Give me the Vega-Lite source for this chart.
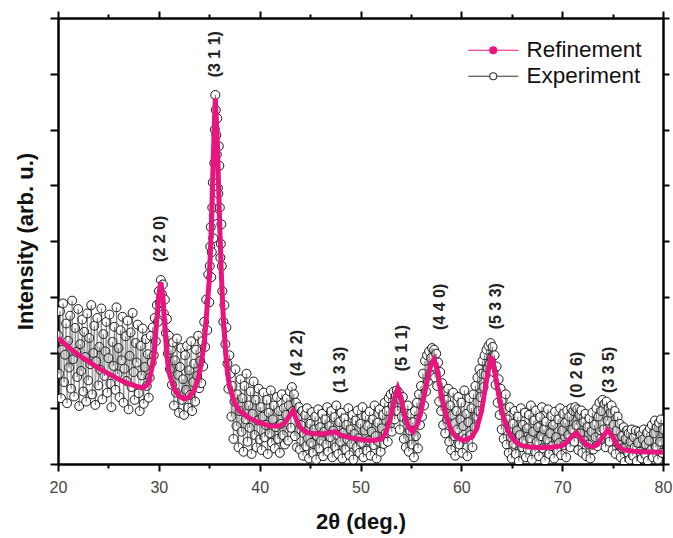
{
  "$schema": "https://vega.github.io/schema/vega-lite/v6.json",
  "width": 605,
  "height": 446,
  "autosize": {"type": "none"},
  "padding": {"left": 58, "top": 18, "right": 10, "bottom": 74},
  "background": "white",
  "config": {
    "font": "Liberation Sans",
    "view": {"stroke": null},
    "axis": {"grid": false, "domainColor": "black", "tickColor": "black", "domainWidth": 2.5, "tickWidth": 2}
  },
  "datasets": {
    "ref": [
      {"t":20.0,"r":2.26},{"t":21,"r":2.10},{"t":22,"r":1.96},{"t":23,"r":1.84},{"t":24,"r":1.72},{"t":25,"r":1.62},{"t":26,"r":1.52},{"t":27,"r":1.44},{"t":28,"r":1.38},{"t":28.5,"r":1.37},{"t":29.0,"r":1.45},{"t":29.5,"r":1.90},{"t":29.8,"r":2.60},{"t":30.0,"r":3.05},{"t":30.2,"r":3.26},{"t":30.4,"r":3.00},{"t":30.6,"r":2.45},{"t":30.8,"r":1.95},{"t":31.0,"r":1.65},{"t":31.5,"r":1.35},{"t":32.0,"r":1.22},{"t":32.5,"r":1.17},{"t":32.8,"r":1.18},{"t":33.0,"r":1.20},{"t":33.5,"r":1.32},{"t":34.0,"r":1.60},{"t":34.5,"r":2.15},{"t":35.0,"r":3.30},{"t":35.2,"r":4.20},{"t":35.4,"r":5.50},{"t":35.6,"r":6.56},{"t":35.8,"r":5.80},{"t":36.0,"r":4.50},{"t":36.2,"r":3.40},{"t":36.4,"r":2.60},{"t":36.6,"r":2.05},{"t":36.8,"r":1.65},{"t":37.0,"r":1.40},{"t":37.5,"r":1.10},{"t":38,"r":0.95},{"t":39,"r":0.82},{"t":40,"r":0.74},{"t":41,"r":0.68},{"t":42,"r":0.68},{"t":42.5,"r":0.74},{"t":43.0,"r":0.88},{"t":43.3,"r":0.95},{"t":43.6,"r":0.82},{"t":44.0,"r":0.66},{"t":44.5,"r":0.58},{"t":45,"r":0.55},{"t":46,"r":0.54},{"t":47,"r":0.56},{"t":47.5,"r":0.58},{"t":48,"r":0.52},{"t":49,"r":0.47},{"t":50,"r":0.44},{"t":51,"r":0.42},{"t":52,"r":0.44},{"t":52.5,"r":0.55},{"t":53.0,"r":0.85},{"t":53.4,"r":1.20},{"t":53.7,"r":1.36},{"t":54.0,"r":1.20},{"t":54.4,"r":0.85},{"t":54.8,"r":0.65},{"t":55.2,"r":0.58},{"t":55.6,"r":0.70},{"t":56.0,"r":0.95},{"t":56.5,"r":1.40},{"t":57.0,"r":1.80},{"t":57.3,"r":1.88},{"t":57.6,"r":1.70},{"t":58.0,"r":1.25},{"t":58.5,"r":0.85},{"t":59.0,"r":0.60},{"t":59.5,"r":0.48},{"t":60.2,"r":0.42},{"t":61.0,"r":0.48},{"t":61.5,"r":0.62},{"t":62.0,"r":0.95},{"t":62.5,"r":1.50},{"t":62.9,"r":1.90},{"t":63.1,"r":1.88},{"t":63.5,"r":1.45},{"t":64.0,"r":0.95},{"t":64.5,"r":0.65},{"t":65.0,"r":0.48},{"t":65.5,"r":0.38},{"t":66,"r":0.33},{"t":67,"r":0.30},{"t":68,"r":0.29},{"t":69,"r":0.30},{"t":70,"r":0.33},{"t":70.5,"r":0.40},{"t":71.0,"r":0.50},{"t":71.4,"r":0.56},{"t":71.8,"r":0.48},{"t":72.3,"r":0.36},{"t":73.0,"r":0.30},{"t":73.5,"r":0.35},{"t":74.0,"r":0.48},{"t":74.5,"r":0.61},{"t":74.9,"r":0.52},{"t":75.5,"r":0.33},{"t":76,"r":0.26},{"t":77,"r":0.23},{"t":78,"r":0.22},{"t":80,"r":0.21}
    ],
    "lab": [
      {"t":30.1,"y":4.04,"label":"(2 2 0)"},
      {"t":35.6,"y":7.35,"label":"(3 1 1)"},
      {"t":43.7,"y":1.99,"label":"(4 2 2)"},
      {"t":48.0,"y":1.69,"label":"(1 3 3)"},
      {"t":54.1,"y":2.08,"label":"(5 1 1)"},
      {"t":57.9,"y":2.82,"label":"(4 4 0)"},
      {"t":63.4,"y":2.83,"label":"(5 3 3)"},
      {"t":71.5,"y":1.60,"label":"(0 2 6)"},
      {"t":74.6,"y":1.69,"label":"(3 3 5)"}
    ],
    "exp": [
      {"t":20.0,"e":2.31},{"t":20.1,"e":1.62},{"t":20.2,"e":2.74},{"t":20.3,"e":1.18},{"t":20.4,"e":2.05},{"t":20.5,"e":2.88},{"t":20.6,"e":1.47},{"t":20.7,"e":1.96},{"t":20.8,"e":2.52},{"t":20.9,"e":1.09},
      {"t":21.0,"e":2.21},{"t":21.1,"e":1.73},{"t":21.2,"e":2.66},{"t":21.3,"e":1.35},{"t":21.4,"e":2.93},{"t":21.5,"e":1.88},{"t":21.6,"e":1.21},{"t":21.7,"e":2.44},{"t":21.8,"e":2.01},{"t":21.9,"e":1.56},
      {"t":22.0,"e":2.78},{"t":22.1,"e":1.04},{"t":22.2,"e":2.15},{"t":22.3,"e":1.67},{"t":22.4,"e":2.59},{"t":22.5,"e":1.30},{"t":22.6,"e":2.37},{"t":22.7,"e":1.92},{"t":22.8,"e":1.12},{"t":22.9,"e":2.70},
      {"t":23.0,"e":1.50},{"t":23.1,"e":2.26},{"t":23.2,"e":1.79},{"t":23.3,"e":2.85},{"t":23.4,"e":1.25},{"t":23.5,"e":1.99},{"t":23.6,"e":2.48},{"t":23.7,"e":1.06},{"t":23.8,"e":1.84},{"t":23.9,"e":2.62},
      {"t":24.0,"e":1.41},{"t":24.1,"e":2.10},{"t":24.2,"e":1.69},{"t":24.3,"e":2.79},{"t":24.4,"e":1.16},{"t":24.5,"e":2.33},{"t":24.6,"e":1.58},{"t":24.7,"e":2.02},{"t":24.8,"e":2.55},{"t":24.9,"e":1.28},
      {"t":25.0,"e":1.90},{"t":25.1,"e":2.68},{"t":25.2,"e":1.44},{"t":25.3,"e":1.02},{"t":25.4,"e":2.19},{"t":25.5,"e":1.76},{"t":25.6,"e":2.46},{"t":25.7,"e":1.33},{"t":25.8,"e":2.81},{"t":25.9,"e":1.61},
      {"t":26.0,"e":2.08},{"t":26.1,"e":1.20},{"t":26.2,"e":2.40},{"t":26.3,"e":1.86},{"t":26.4,"e":2.64},{"t":26.5,"e":1.10},{"t":26.6,"e":1.71},{"t":26.7,"e":2.29},{"t":26.8,"e":1.49},{"t":26.9,"e":2.57},
      {"t":27.0,"e":0.98},{"t":27.1,"e":1.94},{"t":27.2,"e":2.36},{"t":27.3,"e":1.38},{"t":27.4,"e":2.71},{"t":27.5,"e":1.65},{"t":27.6,"e":1.15},{"t":27.7,"e":2.17},{"t":27.8,"e":1.82},{"t":27.9,"e":2.50},
      {"t":28.0,"e":1.27},{"t":28.1,"e":0.95},{"t":28.2,"e":2.12},{"t":28.3,"e":1.59},{"t":28.4,"e":2.43},{"t":28.5,"e":1.08},{"t":28.6,"e":1.74},{"t":28.7,"e":2.24},{"t":28.8,"e":1.40},{"t":28.9,"e":1.97},
      {"t":29.0,"e":1.19},{"t":29.1,"e":1.55},{"t":29.2,"e":2.30},{"t":29.3,"e":1.82},{"t":29.4,"e":2.45},{"t":29.5,"e":1.95},{"t":29.6,"e":2.62},{"t":29.7,"e":2.20},{"t":29.8,"e":2.85},{"t":29.9,"e":2.55},
      {"t":30.0,"e":3.10},{"t":30.1,"e":2.90},{"t":30.2,"e":3.30},{"t":30.3,"e":3.05},{"t":30.4,"e":3.22},{"t":30.5,"e":2.70},{"t":30.6,"e":2.95},{"t":30.7,"e":2.35},{"t":30.8,"e":2.60},{"t":30.9,"e":1.98},
      {"t":31.0,"e":2.30},{"t":31.1,"e":1.70},{"t":31.2,"e":2.05},{"t":31.3,"e":1.42},{"t":31.4,"e":2.18},{"t":31.5,"e":1.05},{"t":31.6,"e":1.86},{"t":31.7,"e":1.28},{"t":31.8,"e":2.25},{"t":31.9,"e":1.60},
      {"t":32.0,"e":0.92},{"t":32.1,"e":1.74},{"t":32.2,"e":2.08},{"t":32.3,"e":1.15},{"t":32.4,"e":1.52},{"t":32.5,"e":0.88},{"t":32.6,"e":1.95},{"t":32.7,"e":1.33},{"t":32.8,"e":2.12},{"t":32.9,"e":1.01},
      {"t":33.0,"e":1.68},{"t":33.1,"e":1.24},{"t":33.2,"e":2.20},{"t":33.3,"e":0.95},{"t":33.4,"e":1.47},{"t":33.5,"e":1.80},{"t":33.6,"e":1.12},{"t":33.7,"e":2.05},{"t":33.8,"e":1.58},{"t":33.9,"e":2.30},
      {"t":34.0,"e":1.36},{"t":34.1,"e":1.85},{"t":34.2,"e":1.45},{"t":34.3,"e":2.20},{"t":34.4,"e":1.75},{"t":34.5,"e":2.55},{"t":34.6,"e":2.10},{"t":34.7,"e":2.95},{"t":34.8,"e":2.40},{"t":34.9,"e":3.40},
      {"t":35.0,"e":2.90},{"t":35.05,"e":3.55},{"t":35.1,"e":3.90},{"t":35.15,"e":4.25},{"t":35.2,"e":3.35},{"t":35.25,"e":3.80},{"t":35.3,"e":4.60},{"t":35.35,"e":5.05},{"t":35.4,"e":4.05},{"t":35.45,"e":4.45},
      {"t":35.5,"e":5.40},{"t":35.55,"e":6.00},{"t":35.6,"e":6.62},{"t":35.65,"e":6.35},{"t":35.7,"e":5.90},{"t":35.75,"e":5.55},{"t":35.8,"e":6.20},{"t":35.85,"e":4.95},{"t":35.9,"e":4.85},{"t":35.95,"e":5.70},
      {"t":36.0,"e":5.35},{"t":36.05,"e":4.60},{"t":36.1,"e":3.70},{"t":36.15,"e":3.95},{"t":36.2,"e":4.30},{"t":36.25,"e":3.55},{"t":36.3,"e":3.10},{"t":36.4,"e":2.55},{"t":36.5,"e":2.85},{"t":36.6,"e":2.15},
      {"t":36.7,"e":2.45},{"t":36.8,"e":1.80},{"t":36.9,"e":1.35},{"t":37.0,"e":1.95},{"t":37.1,"e":1.62},{"t":37.2,"e":0.85},{"t":37.3,"e":1.40},{"t":37.4,"e":0.45},{"t":37.5,"e":1.12},{"t":37.6,"e":1.70},
      {"t":37.7,"e":0.68},{"t":37.8,"e":1.25},{"t":37.9,"e":0.30},{"t":38.0,"e":0.95},{"t":38.1,"e":1.52},{"t":38.2,"e":0.58},{"t":38.3,"e":1.18},{"t":38.4,"e":0.22},{"t":38.5,"e":1.40},{"t":38.6,"e":0.80},
      {"t":38.7,"e":1.62},{"t":38.8,"e":0.40},{"t":38.9,"e":1.05},{"t":39.0,"e":0.65},{"t":39.1,"e":1.30},{"t":39.2,"e":0.18},{"t":39.3,"e":0.90},{"t":39.4,"e":1.48},{"t":39.5,"e":0.52},{"t":39.6,"e":1.15},
      {"t":39.7,"e":0.30},{"t":39.8,"e":0.78},{"t":39.9,"e":1.35},{"t":40.0,"e":0.44},{"t":40.1,"e":1.02},{"t":40.2,"e":0.25},{"t":40.3,"e":0.85},{"t":40.4,"e":1.28},{"t":40.5,"e":0.48},{"t":40.6,"e":0.70},
      {"t":40.7,"e":1.15},{"t":40.8,"e":0.18},{"t":40.9,"e":0.92},{"t":41.0,"e":0.55},{"t":41.1,"e":1.32},{"t":41.2,"e":0.38},{"t":41.3,"e":0.80},{"t":41.4,"e":1.05},{"t":41.5,"e":0.28},{"t":41.6,"e":0.66},
      {"t":41.7,"e":1.20},{"t":41.8,"e":0.45},{"t":41.9,"e":0.95},{"t":42.0,"e":0.20},{"t":42.1,"e":0.72},{"t":42.2,"e":1.25},{"t":42.3,"e":0.52},{"t":42.4,"e":1.00},{"t":42.5,"e":0.35},{"t":42.6,"e":0.88},
      {"t":42.7,"e":1.18},{"t":42.8,"e":0.42},{"t":42.9,"e":1.05},{"t":43.0,"e":1.30},{"t":43.1,"e":0.65},{"t":43.2,"e":1.38},{"t":43.3,"e":0.95},{"t":43.4,"e":1.25},{"t":43.5,"e":0.50},{"t":43.6,"e":1.10},
      {"t":43.7,"e":0.30},{"t":43.8,"e":0.85},{"t":43.9,"e":1.02},{"t":44.0,"e":0.26},{"t":44.1,"e":0.70},{"t":44.2,"e":0.95},{"t":44.3,"e":0.15},{"t":44.4,"e":0.55},{"t":44.5,"e":0.88},{"t":44.6,"e":0.32},
      {"t":44.7,"e":1.00},{"t":44.8,"e":0.46},{"t":44.9,"e":0.10},{"t":45.0,"e":0.72},{"t":45.1,"e":0.38},{"t":45.2,"e":0.93},{"t":45.3,"e":0.20},{"t":45.4,"e":0.62},{"t":45.5,"e":0.85},{"t":45.6,"e":0.08},
      {"t":45.7,"e":0.50},{"t":45.8,"e":0.98},{"t":45.9,"e":0.28},{"t":46.0,"e":0.66},{"t":46.1,"e":0.42},{"t":46.2,"e":0.90},{"t":46.3,"e":0.14},{"t":46.4,"e":0.58},{"t":46.5,"e":0.80},{"t":46.6,"e":0.35},
      {"t":46.7,"e":1.02},{"t":46.8,"e":0.22},{"t":46.9,"e":0.68},{"t":47.0,"e":0.48},{"t":47.1,"e":0.95},{"t":47.2,"e":0.12},{"t":47.3,"e":0.60},{"t":47.4,"e":0.84},{"t":47.5,"e":0.30},{"t":47.6,"e":1.05},
      {"t":47.7,"e":0.52},{"t":47.8,"e":0.18},{"t":47.9,"e":0.75},{"t":48.0,"e":0.40},{"t":48.1,"e":0.92},{"t":48.2,"e":0.10},{"t":48.3,"e":0.56},{"t":48.4,"e":0.82},{"t":48.5,"e":0.26},{"t":48.6,"e":0.70},
      {"t":48.7,"e":0.44},{"t":48.8,"e":1.00},{"t":48.9,"e":0.16},{"t":49.0,"e":0.62},{"t":49.1,"e":0.36},{"t":49.2,"e":0.88},{"t":49.3,"e":0.08},{"t":49.4,"e":0.54},{"t":49.5,"e":0.78},{"t":49.6,"e":0.30},
      {"t":49.7,"e":0.96},{"t":49.8,"e":0.46},{"t":49.9,"e":0.20},{"t":50.0,"e":0.72},{"t":50.1,"e":0.38},{"t":50.2,"e":1.02},{"t":50.3,"e":0.12},{"t":50.4,"e":0.60},{"t":50.5,"e":0.86},{"t":50.6,"e":0.24},
      {"t":50.7,"e":0.68},{"t":50.8,"e":0.42},{"t":50.9,"e":0.94},{"t":51.0,"e":0.15},{"t":51.1,"e":0.58},{"t":51.2,"e":0.80},{"t":51.3,"e":0.34},{"t":51.4,"e":1.05},{"t":51.5,"e":0.50},{"t":51.6,"e":0.10},
      {"t":51.7,"e":0.74},{"t":51.8,"e":0.40},{"t":51.9,"e":0.98},{"t":52.0,"e":0.22},{"t":52.1,"e":0.64},{"t":52.2,"e":0.88},{"t":52.3,"e":0.36},{"t":52.4,"e":1.10},{"t":52.5,"e":0.55},{"t":52.6,"e":0.95},
      {"t":52.7,"e":0.40},{"t":52.8,"e":1.18},{"t":52.9,"e":0.70},{"t":53.0,"e":1.25},{"t":53.1,"e":0.58},{"t":53.2,"e":1.05},{"t":53.3,"e":1.30},{"t":53.4,"e":0.80},{"t":53.5,"e":1.22},{"t":53.6,"e":1.32},
      {"t":53.7,"e":0.95},{"t":53.8,"e":1.28},{"t":53.9,"e":0.62},{"t":54.0,"e":1.15},{"t":54.1,"e":0.85},{"t":54.2,"e":1.20},{"t":54.3,"e":0.45},{"t":54.4,"e":0.98},{"t":54.5,"e":0.30},{"t":54.6,"e":0.78},
      {"t":54.7,"e":1.05},{"t":54.8,"e":0.22},{"t":54.9,"e":0.60},{"t":55.0,"e":0.90},{"t":55.1,"e":0.35},{"t":55.2,"e":0.75},{"t":55.3,"e":0.12},{"t":55.4,"e":0.95},{"t":55.5,"e":0.50},{"t":55.6,"e":1.10},
      {"t":55.7,"e":0.28},{"t":55.8,"e":1.25},{"t":55.9,"e":0.70},{"t":56.0,"e":1.40},{"t":56.1,"e":0.85},{"t":56.2,"e":1.62},{"t":56.3,"e":1.05},{"t":56.4,"e":1.85},{"t":56.5,"e":1.30},{"t":56.6,"e":1.95},
      {"t":56.7,"e":1.48},{"t":56.8,"e":2.02},{"t":56.9,"e":1.60},{"t":57.0,"e":1.90},{"t":57.1,"e":2.08},{"t":57.2,"e":1.75},{"t":57.3,"e":2.05},{"t":57.4,"e":1.55},{"t":57.5,"e":1.98},{"t":57.6,"e":1.40},
      {"t":57.7,"e":1.82},{"t":57.8,"e":1.12},{"t":57.9,"e":1.65},{"t":58.0,"e":0.95},{"t":58.1,"e":1.45},{"t":58.2,"e":0.70},{"t":58.3,"e":1.30},{"t":58.4,"e":0.55},{"t":58.5,"e":1.15},{"t":58.6,"e":0.80},
      {"t":58.7,"e":1.35},{"t":58.8,"e":0.40},{"t":58.9,"e":1.05},{"t":59.0,"e":0.25},{"t":59.1,"e":0.88},{"t":59.2,"e":1.28},{"t":59.3,"e":0.50},{"t":59.4,"e":0.15},{"t":59.5,"e":0.95},{"t":59.6,"e":0.62},
      {"t":59.7,"e":1.20},{"t":59.8,"e":0.35},{"t":59.9,"e":0.80},{"t":60.0,"e":1.10},{"t":60.1,"e":0.20},{"t":60.2,"e":0.68},{"t":60.3,"e":1.32},{"t":60.4,"e":0.45},{"t":60.5,"e":0.90},{"t":60.6,"e":0.14},
      {"t":60.7,"e":0.75},{"t":60.8,"e":1.18},{"t":60.9,"e":0.52},{"t":61.0,"e":1.00},{"t":61.1,"e":0.30},{"t":61.2,"e":1.25},{"t":61.3,"e":0.66},{"t":61.4,"e":1.40},{"t":61.5,"e":0.85},{"t":61.6,"e":1.55},
      {"t":61.7,"e":0.95},{"t":61.8,"e":1.70},{"t":61.9,"e":1.20},{"t":62.0,"e":1.62},{"t":62.1,"e":1.85},{"t":62.2,"e":1.38},{"t":62.3,"e":1.95},{"t":62.4,"e":1.60},{"t":62.5,"e":2.05},{"t":62.6,"e":1.72},
      {"t":62.7,"e":2.12},{"t":62.8,"e":1.80},{"t":62.9,"e":2.17},{"t":63.0,"e":1.90},{"t":63.1,"e":2.10},{"t":63.2,"e":1.65},{"t":63.3,"e":1.95},{"t":63.4,"e":1.42},{"t":63.5,"e":1.75},{"t":63.6,"e":1.10},
      {"t":63.7,"e":1.52},{"t":63.8,"e":0.88},{"t":63.9,"e":1.35},{"t":64.0,"e":0.62},{"t":64.1,"e":1.15},{"t":64.2,"e":0.45},{"t":64.3,"e":0.98},{"t":64.4,"e":1.25},{"t":64.5,"e":0.35},{"t":64.6,"e":0.80},
      {"t":64.7,"e":0.20},{"t":64.8,"e":1.02},{"t":64.9,"e":0.48},{"t":65.0,"e":0.10},{"t":65.1,"e":0.72},{"t":65.2,"e":0.36},{"t":65.3,"e":0.95},{"t":65.4,"e":0.18},{"t":65.5,"e":0.60},{"t":65.6,"e":0.85},
      {"t":65.7,"e":0.05},{"t":65.8,"e":0.52},{"t":65.9,"e":1.00},{"t":66.0,"e":0.30},{"t":66.1,"e":0.70},{"t":66.2,"e":0.42},{"t":66.3,"e":0.92},{"t":66.4,"e":0.12},{"t":66.5,"e":0.64},{"t":66.6,"e":0.26},
      {"t":66.7,"e":0.88},{"t":66.8,"e":0.46},{"t":66.9,"e":1.05},{"t":67.0,"e":0.08},{"t":67.1,"e":0.58},{"t":67.2,"e":0.78},{"t":67.3,"e":0.22},{"t":67.4,"e":0.96},{"t":67.5,"e":0.40},{"t":67.6,"e":0.66},
      {"t":67.7,"e":0.14},{"t":67.8,"e":0.84},{"t":67.9,"e":0.50},{"t":68.0,"e":1.02},{"t":68.1,"e":0.28},{"t":68.2,"e":0.62},{"t":68.3,"e":0.06},{"t":68.4,"e":0.76},{"t":68.5,"e":0.44},{"t":68.6,"e":0.98},
      {"t":68.7,"e":0.18},{"t":68.8,"e":0.55},{"t":68.9,"e":0.86},{"t":69.0,"e":0.32},{"t":69.1,"e":0.70},{"t":69.2,"e":0.10},{"t":69.3,"e":0.94},{"t":69.4,"e":0.48},{"t":69.5,"e":0.24},{"t":69.6,"e":0.80},
      {"t":69.7,"e":0.38},{"t":69.8,"e":1.00},{"t":69.9,"e":0.16},{"t":70.0,"e":0.60},{"t":70.1,"e":0.90},{"t":70.2,"e":0.34},{"t":70.3,"e":0.74},{"t":70.4,"e":0.12},{"t":70.5,"e":0.96},{"t":70.6,"e":0.52},
      {"t":70.7,"e":0.85},{"t":70.8,"e":0.30},{"t":70.9,"e":1.00},{"t":71.0,"e":0.62},{"t":71.1,"e":0.95},{"t":71.2,"e":0.40},{"t":71.3,"e":1.02},{"t":71.4,"e":0.70},{"t":71.5,"e":0.98},{"t":71.6,"e":0.25},
      {"t":71.7,"e":0.88},{"t":71.8,"e":0.55},{"t":71.9,"e":0.96},{"t":72.0,"e":0.20},{"t":72.1,"e":0.75},{"t":72.2,"e":0.42},{"t":72.3,"e":0.90},{"t":72.4,"e":0.14},{"t":72.5,"e":0.66},{"t":72.6,"e":0.35},
      {"t":72.7,"e":0.82},{"t":72.8,"e":0.10},{"t":72.9,"e":0.58},{"t":73.0,"e":0.92},{"t":73.1,"e":0.26},{"t":73.2,"e":0.70},{"t":73.3,"e":0.48},{"t":73.4,"e":1.00},{"t":73.5,"e":0.32},{"t":73.6,"e":0.85},
      {"t":73.7,"e":1.10},{"t":73.8,"e":0.45},{"t":73.9,"e":0.95},{"t":74.0,"e":1.15},{"t":74.1,"e":0.62},{"t":74.2,"e":1.08},{"t":74.3,"e":0.30},{"t":74.4,"e":1.12},{"t":74.5,"e":0.78},{"t":74.6,"e":1.00},
      {"t":74.7,"e":0.40},{"t":74.8,"e":0.92},{"t":74.9,"e":1.05},{"t":75.0,"e":0.25},{"t":75.1,"e":0.70},{"t":75.2,"e":0.95},{"t":75.3,"e":0.18},{"t":75.4,"e":0.60},{"t":75.5,"e":0.85},{"t":75.6,"e":0.35},
      {"t":75.7,"e":0.72},{"t":75.8,"e":0.12},{"t":75.9,"e":0.50},{"t":76.0,"e":0.28},{"t":76.1,"e":0.66},{"t":76.2,"e":0.04},{"t":76.3,"e":0.45},{"t":76.4,"e":0.60},{"t":76.5,"e":0.20},{"t":76.6,"e":0.55},
      {"t":76.7,"e":0.08},{"t":76.8,"e":0.40},{"t":76.9,"e":0.62},{"t":77.0,"e":0.15},{"t":77.1,"e":0.48},{"t":77.2,"e":0.30},{"t":77.3,"e":0.60},{"t":77.4,"e":0.05},{"t":77.5,"e":0.38},{"t":77.6,"e":0.58},
      {"t":77.7,"e":0.22},{"t":77.8,"e":0.52},{"t":77.9,"e":0.10},{"t":78.0,"e":0.44},{"t":78.1,"e":0.62},{"t":78.2,"e":0.18},{"t":78.3,"e":0.35},{"t":78.4,"e":0.56},{"t":78.5,"e":0.06},{"t":78.6,"e":0.42},
      {"t":78.7,"e":0.64},{"t":78.8,"e":0.25},{"t":78.9,"e":0.70},{"t":79.0,"e":0.12},{"t":79.1,"e":0.55},{"t":79.2,"e":0.78},{"t":79.3,"e":0.30},{"t":79.4,"e":0.66},{"t":79.5,"e":0.08},{"t":79.6,"e":0.74},
      {"t":79.7,"e":0.40},{"t":79.8,"e":0.80},{"t":79.9,"e":0.20},{"t":80.0,"e":0.62}
    ]
  },
  "resolve": {"axis": {"x": "independent", "y": "independent"}},
  "layer": [
    {
      "data": {"name": "exp"},
      "mark": {"type": "circle", "fill": "white", "stroke": "black", "strokeWidth": 0.9, "size": 80, "opacity": 1, "clip": true},
      "encoding": {
        "x": {"field": "t", "type": "quantitative", "scale": {"domain": [20, 80], "nice": false, "zero": false},
          "axis": {"orient": "bottom", "values": [20,25,30,35,40,45,50,55,60,65,70,75,80],
            "labelExpr": "datum.value % 10 === 0 ? datum.label : ''",
            "tickSize": {"condition": {"test": "datum.value % 10 === 0", "value": 7}, "value": 4},
            "labelFlush": false, "labelOverlap": false, "labelFontSize": 16, "labelColor": "#444", "labelPadding": 8,
            "title": "2θ (deg.)", "titleFontSize": 22, "titleFontWeight": "bold", "titleColor": "#111", "titlePadding": 16}},
        "y": {"field": "e", "type": "quantitative", "scale": {"domain": [0, 8], "nice": false, "zero": false},
          "axis": {"orient": "left", "values": [0,1,2,3,4,5,6,7,8], "labels": false, "tickSize": 8,
            "title": "Intensity (arb. u.)", "titleFontSize": 22, "titleFontWeight": "bold", "titleColor": "#111", "titlePadding": 12}}
      }
    },
    {
      "data": {"name": "exp"},
      "mark": {"type": "line", "strokeWidth": 0.45, "clip": true},
      "encoding": {
        "x": {"field": "t", "type": "quantitative", "scale": {"domain": [20, 80], "nice": false, "zero": false}, "axis": null},
        "y": {"field": "e", "type": "quantitative", "scale": {"domain": [0, 8], "nice": false, "zero": false}, "axis": null},
        "color": {"datum": "Experiment", "type": "nominal",
          "scale": {"domain": ["Refinement", "Experiment"], "range": ["#E8157F", "#333333"]},
          "legend": {"orient": "top-right", "offset": 21, "title": null, "padding": 0,
            "labelFontSize": 22.5, "labelColor": "#111", "labelOffset": 22, "rowPadding": 3,
            "symbolType": "M-2.5,0H-0.35M0.35,0H2.5M0.35,0A0.35,0.35,0,1,1,-0.35,0A0.35,0.35,0,1,1,0.35,0",
            "symbolSize": 400, "symbolStrokeWidth": 1.1,
            "encode": {"symbols": {"update": {
              "fill": [{"test": "datum.value === 'Refinement'", "value": "#E8157F"}, {"value": "white"}],
              "stroke": [{"test": "datum.value === 'Refinement'", "value": "#EE5C9E"}, {"value": "#555"}],
              "opacity": {"value": 1}, "fillOpacity": {"value": 1}}}}}}
      }
    },
    {
      "data": {"name": "ref"},
      "mark": {"type": "line", "strokeWidth": 5, "clip": true},
      "encoding": {
        "x": {"field": "t", "type": "quantitative", "scale": {"domain": [20, 80], "nice": false, "zero": false},
          "axis": {"orient": "top", "values": [20,25,30,35,40,45,50,55,60,65,70,75,80], "labels": false, "title": null,
            "tickSize": {"condition": {"test": "datum.value % 10 === 0", "value": 7}, "value": 4}}},
        "y": {"field": "r", "type": "quantitative", "scale": {"domain": [0, 8], "nice": false, "zero": false},
          "axis": {"orient": "right", "values": [0,1,2,3,4,5,6,7,8], "labels": false, "title": null, "tickSize": 6}},
        "color": {"datum": "Refinement", "type": "nominal"}
      }
    },
    {
      "data": {"name": "lab"},
      "mark": {"type": "text", "angle": 270, "align": "center", "baseline": "middle", "fontSize": 16, "fontWeight": "bold", "color": "#222"},
      "encoding": {
        "x": {"field": "t", "type": "quantitative", "scale": {"domain": [20, 80], "nice": false, "zero": false}, "axis": null},
        "y": {"field": "y", "type": "quantitative", "scale": {"domain": [0, 8], "nice": false, "zero": false}, "axis": null},
        "text": {"field": "label"}
      }
    }
  ]
}
